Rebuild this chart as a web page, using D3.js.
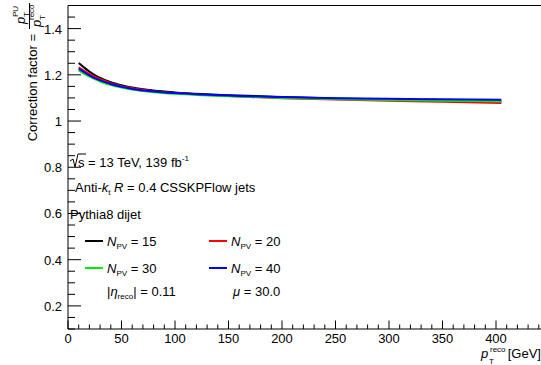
<!DOCTYPE html>
<html><head><meta charset="utf-8">
<script src="https://cdn.jsdelivr.net/npm/d3@7"></script>
<style>
body{margin:0;background:#fff;}
svg{display:block;font-family:"Liberation Sans",Arial,sans-serif;}
</style></head>
<body><svg id="c" width="541" height="365"></svg>
<script>
const ptValues = [10, 15, 20, 25, 30, 40, 50, 60, 80, 100, 125, 150, 200, 250, 300, 350, 405];
const npv15 = [1.251, 1.232, 1.214, 1.199, 1.187, 1.168, 1.155, 1.145, 1.132, 1.124, 1.117, 1.112, 1.104, 1.098, 1.093, 1.089, 1.085];
const npv20 = [1.232, 1.218, 1.204, 1.192, 1.181, 1.164, 1.151, 1.142, 1.129, 1.121, 1.114, 1.108, 1.099, 1.093, 1.088, 1.083, 1.078];
const npv30 = [1.219, 1.205, 1.192, 1.181, 1.171, 1.156, 1.145, 1.136, 1.125, 1.118, 1.112, 1.107, 1.100, 1.095, 1.091, 1.088, 1.085];
const npv40 = [1.227, 1.212, 1.198, 1.186, 1.176, 1.160, 1.148, 1.139, 1.128, 1.121, 1.115, 1.110, 1.104, 1.099, 1.096, 1.094, 1.092];
const seriesNames = ["15", "20", "30", "40"];
const seriesColors = ["#000000", "#ff0000", "#00ee00", "#0000ff"];
const xTicks = [0, 50, 100, 150, 200, 250, 300, 350, 400];
const yTicks = [0.2, 0.4, 0.6, 0.8, 1.0, 1.2, 1.4];

const svg = d3.select("#c");
const x = d3.scaleLinear().domain([0, 450]).range([68, 549.5]);
const y = d3.scaleLinear().domain([0.1, 1.5]).range([329, 5.5]);

svg.append("line").attr("x1",68).attr("x2",541).attr("y1",5.5).attr("y2",5.5).attr("stroke","#000");
// x axis
const xMinor = d3.range(0, 451, 10);
const gx = svg.append("g");
gx.append("line").attr("x1",68).attr("x2",541).attr("y1",329).attr("y2",329).attr("stroke","#000");
gx.selectAll("line.mn").data(xMinor).enter().append("line")
  .attr("x1",d=>x(d)).attr("x2",d=>x(d)).attr("y1",329).attr("y2",d=>d%50===0?320.5:324.5).attr("stroke","#000");
gx.selectAll("text").data(xTicks).enter().append("text")
  .attr("x",d=>x(d)).attr("y",343).attr("text-anchor","middle").attr("font-size",13).text(d=>d);

// y axis
const yMinor = d3.range(0.1, 1.501, 0.05).map(v=>Math.round(v*100)/100);
const gy = svg.append("g");
gy.append("line").attr("x1",68).attr("x2",68).attr("y1",5.5).attr("y2",329).attr("stroke","#000");
gy.selectAll("line.mn").data(yMinor).enter().append("line")
  .attr("x1",68).attr("x2",d=>(Math.round(d*100)%20===0)?81:75).attr("y1",d=>y(d)).attr("y2",d=>y(d)).attr("stroke","#000");
gy.selectAll("text").data(yTicks).enter().append("text")
  .attr("x",62).attr("y",d=>y(d)+5).attr("text-anchor","end").attr("font-size",13).text(d=>d===1?"1":d.toFixed(1));

// curves
const allSeries = [npv15, npv20, npv30, npv40];
const line = d3.line().curve(d3.curveMonotoneX).x(d=>x(d[0])).y(d=>y(d[1]));
[0,1,2,3].forEach(i=>{
  svg.append("path").datum(ptValues.map((p,j)=>[p, allSeries[i][j]]))
    .attr("d",line).attr("fill","none").attr("stroke",seriesColors[i]).attr("stroke-width",2);
});

function addText(xp, yp, parts, size){
  const t = svg.append("text").attr("x",xp).attr("y",yp).attr("font-size",size||13);
  parts.forEach(p=>{
    const s = t.append("tspan").text(p.t);
    if(p.it) s.attr("font-style","italic");
    if(p.sub){ s.attr("font-size",(size||13)*0.62).attr("dy",3); }
    if(p.sup){ s.attr("font-size",(size||13)*0.62).attr("dy",-6); }
    if(p.back) s.attr("dy",p.back);
  });
  return t;
}
svg.append("path").attr("d","M70,161 L73,159 L75,167 L78,154 L86,154").attr("fill","none").attr("stroke","#000").attr("stroke-width",1);
addText(78,167,[{t:"s = 13 TeV, 139 fb"},{t:"-1",sup:true}]);
addText(75,192,[{t:"Anti-"},{t:"k",it:true},{t:"t",sub:true},{t:" R",it:true,back:-3},{t:" = 0.4 CSSKPFlow jets"}]);
addText(70,219,[{t:"Pythia8 dijet"}]);

// legend
const legX = [85, 209];
const legY = [241, 268];
seriesNames.forEach((n,i)=>{
  const col = i%2, row = Math.floor(i/2);
  svg.append("line").attr("x1",legX[col]).attr("x2",legX[col]+18).attr("y1",legY[row]).attr("y2",legY[row])
    .attr("stroke",seriesColors[i]).attr("stroke-width",2);
  addText(legX[col]+22, legY[row]+5, [{t:"N",it:true},{t:"PV",sub:true},{t:" = "+n,back:-3}]);
});
addText(107,296,[{t:"|"},{t:"η",it:true},{t:"reco",sub:true},{t:"| = 0.11",back:-3}]);
addText(233,296,[{t:"μ",it:true},{t:" = 30.0"}]);

// x title
svg.append("text").attr("x",481).attr("y",358).attr("font-size",13).attr("font-style","italic").text("p");
svg.append("text").attr("x",490).attr("y",352).attr("font-size",8).text("reco");
svg.append("text").attr("x",489).attr("y",364).attr("font-size",8).text("T");
svg.append("text").attr("x",541).attr("y",358).attr("text-anchor","end").attr("font-size",13).text("[GeV]");

// y title (rotated): screen x = y', screen y = -x'
const g = svg.append("g").attr("transform","rotate(-90)");
g.append("text").attr("x",-34).attr("y",37).attr("text-anchor","end").attr("font-size",13).text("Correction factor =");
g.append("line").attr("x1",-29).attr("x2",-3).attr("y1",29.5).attr("y2",29.5).attr("stroke","#000");
g.append("text").attr("x",-24).attr("y",25).attr("font-size",13).attr("font-style","italic").text("p");
g.append("text").attr("x",-17).attr("y",18).attr("font-size",8).text("PU");
g.append("text").attr("x",-17).attr("y",29).attr("font-size",8).text("T");
g.append("text").attr("x",-27).attr("y",41).attr("font-size",13).attr("font-style","italic").text("p");
g.append("text").attr("x",-20).attr("y",34).attr("font-size",8).text("reco");
g.append("text").attr("x",-20).attr("y",45).attr("font-size",8).text("T");
</script></body></html>
